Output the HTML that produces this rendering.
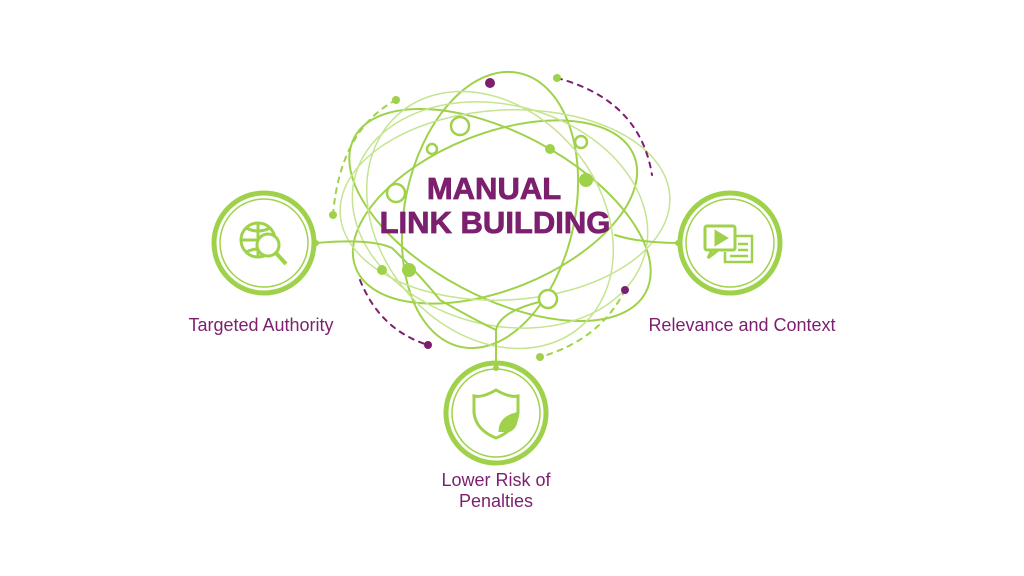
<!DOCTYPE html>
<html><head><meta charset="utf-8"><style>
body{margin:0;background:#fff;width:1024px;height:576px;overflow:hidden}
svg{display:block}
text{font-family:"Liberation Sans",sans-serif}
</style></head><body>
<svg width="1024" height="576" viewBox="0 0 1024 576">
<g fill="none" stroke-linecap="round">
<g stroke="#9fd24a" stroke-width="2">
<ellipse cx="500" cy="215" rx="165" ry="82" transform="rotate(28 500 215)"/>
<ellipse cx="495" cy="212" rx="150" ry="78" transform="rotate(-22 495 212)"/>
<ellipse cx="490" cy="210" rx="85" ry="140" transform="rotate(12 490 210)"/>
</g>
<g stroke="#c5e48f" stroke-width="1.5">
<ellipse cx="505" cy="205" rx="165" ry="95" transform="rotate(-3 505 205)"/>
<ellipse cx="490" cy="220" rx="110" ry="140" transform="rotate(-40 490 220)"/>
<ellipse cx="500" cy="215" rx="150" ry="110" transform="rotate(15 500 215)"/>
</g>
<path d="M316 243 Q370 238 392 248 Q420 275 440 300 Q475 320 496 330 L496 368" stroke="#9fd24a" stroke-width="2"/>
<path d="M496 368 L496 330 Q500 310 548 300" stroke="#9fd24a" stroke-width="2"/>
<path d="M678 243 Q640 243 615 235" stroke="#9fd24a" stroke-width="2"/>
<path d="M396 100 Q340 130 333 215" stroke="#9fd24a" stroke-width="2" stroke-dasharray="5 6"/>
<path d="M557 78 Q640 100 652 175" stroke="#7c1f6e" stroke-width="2" stroke-dasharray="5 6"/>
<path d="M360 280 Q380 330 428 345" stroke="#7c1f6e" stroke-width="2" stroke-dasharray="5 6"/>
<path d="M625 290 Q600 340 540 357" stroke="#9fd24a" stroke-width="2" stroke-dasharray="5 6"/>
</g>
<g fill="#9fd24a">
<circle cx="396" cy="100" r="4"/><circle cx="333" cy="215" r="4"/>
<circle cx="557" cy="78" r="4"/><circle cx="540" cy="357" r="4"/>
<circle cx="550" cy="149" r="5"/><circle cx="586" cy="180" r="7"/>
<circle cx="409" cy="270" r="7"/><circle cx="382" cy="270" r="5"/>
<circle cx="316" cy="243" r="3"/><circle cx="678" cy="243" r="3"/><circle cx="496" cy="368" r="3"/>
</g>
<g fill="#7c1f6e">
<circle cx="490" cy="83" r="5"/><circle cx="625" cy="290" r="4"/><circle cx="428" cy="345" r="4"/>
</g>
<g fill="#fff" stroke="#9fd24a" stroke-width="2.5">
<circle cx="460" cy="126" r="9"/><circle cx="432" cy="149" r="5"/>
<circle cx="396" cy="193" r="9"/><circle cx="581" cy="142" r="6"/>
<circle cx="548" cy="299" r="9"/>
</g>
<g fill="none" stroke="#9fd24a">
<circle cx="264" cy="243" r="50" stroke-width="5"/><circle cx="264" cy="243" r="44" stroke-width="1.5"/>
<circle cx="730" cy="243" r="50" stroke-width="5"/><circle cx="730" cy="243" r="44" stroke-width="1.5"/>
<circle cx="496" cy="413" r="50" stroke-width="5"/><circle cx="496" cy="413" r="44" stroke-width="1.5"/>
</g>
<g fill="none" stroke="#9fd24a" stroke-width="3">
<circle cx="258" cy="240" r="17"/><path d="M241 240 H275 M258 223 V257 M246 228 Q258 234 270 228 M246 252 Q258 246 270 252"/>
<circle cx="268" cy="245" r="11" fill="#fff"/><path d="M276 253 L286 264" stroke-width="4"/>
<rect x="705" y="226" width="30" height="24" rx="2"/><path d="M712 250 L708 258 L718 250"/>
<path d="M716 232 L726 238 L716 244 Z" fill="#9fd24a"/>
<path d="M735 236 H752 V262 H725 V252 M738 244 H748 M738 250 H748 M730 256 H748" stroke-width="2.5"/>
<path d="M496 390 Q510 398 518 396 V413 Q516 430 496 438 Q476 430 474 413 V396 Q482 398 496 390 Z"/>
<path d="M500 432 Q500 418 516 414 Q518 430 504 432" fill="#9fd24a"/>
</g>
<g font-weight="bold" fill="#7c1f6e" stroke="#7c1f6e" stroke-width="0.8" text-anchor="middle">
<text x="494" y="199" font-size="31">MANUAL</text>
<text x="495" y="233" font-size="31">LINK BUILDING</text>
</g>
<g fill="#7c1f6e" font-size="18" text-anchor="middle">
<text x="261" y="331">Targeted Authority</text>
<text x="742" y="331">Relevance and Context</text>
<text x="496" y="486">Lower Risk of</text>
<text x="496" y="507">Penalties</text>
</g>
</svg>
</body></html>
